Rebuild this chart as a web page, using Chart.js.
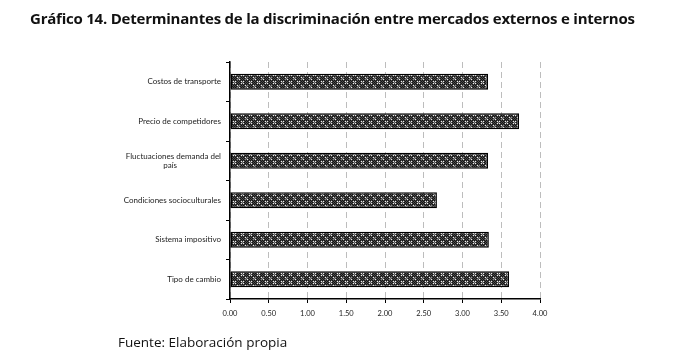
<!DOCTYPE html>
<html>
<head>
<meta charset="utf-8">
<script src="https://cdn.jsdelivr.net/npm/chart.js@4.4.1/dist/chart.umd.min.js"></script>
<style>
  html, body { margin: 0; padding: 0; background: #fff; }
  #wrap { position: relative; width: 682px; height: 364px; }
  #chart { position: absolute; left: 0; top: 0; }
  .title { position: absolute; left: 30px; top: 8px; font: bold 15px "Open Sans", sans-serif; color: #111; white-space: nowrap; letter-spacing: -0.22px; }
  .source { position: absolute; left: 118px; top: 333px; font: 13.5px "Open Sans", sans-serif; color: #111; white-space: nowrap; }
</style>
</head>
<body>
<div id="wrap">
  <canvas id="chart" width="682" height="364"></canvas>
  <div class="title">Gráfico 14. Determinantes de la discriminación entre mercados externos e internos</div>
  <div class="source">Fuente: Elaboración propia</div>
</div>
<script>
const categories = [
  'Costos de transporte',
  'Precio de competidores',
  ['Fluctuaciones demanda del', 'país' + '\u2002'.repeat(11)],
  'Condiciones socioculturales',
  'Sistema impositivo',
  'Tipo de cambio'
];
const scores = [3.33, 3.73, 3.33, 2.67, 3.34, 3.60];
const xTicks = [0, 0.5, 1, 1.5, 2, 2.5, 3, 3.5, 4];

// dense dark crosshatch tile like the original fill
function makePattern() {
  const tile = document.createElement('canvas');
  tile.width = 8; tile.height = 8;
  const c = tile.getContext('2d');
  c.fillStyle = '#4a4a4a';
  c.fillRect(0, 0, 8, 8);
  c.fillStyle = '#151515';
  for (let y = 0; y < 8; y++) {
    for (let x = 0; x < 8; x++) {
      if ((x + y) % 2 === 0) c.fillRect(x, y, 1, 1);
    }
  }
  c.fillStyle = '#eee';
  [[1,1],[3,3],[3,1],[1,3],[5,5],[7,7]].forEach(([x, y]) => c.fillRect(x, y, 1, 1));
  c.fillStyle = '#888';
  [[2,2],[6,6],[5,7],[7,5]].forEach(([x, y]) => c.fillRect(x, y, 1, 1));
  return c.createPattern(tile, 'repeat');
}

const ctx = document.getElementById('chart').getContext('2d');

new Chart(ctx, {
  type: 'bar',
  data: {
    labels: categories,
    datasets: [{
      data: scores,
      backgroundColor: makePattern(),
      borderColor: '#000',
      borderWidth: 1.5,
      borderSkipped: false,
      barPercentage: 0.41,
      categoryPercentage: 1.0
    }]
  },
  options: {
    indexAxis: 'y',
    responsive: false,
    animation: false,
    layout: { padding: { left: 0, right: 142, top: 62, bottom: 35 } },
    scales: {
      x: {
        min: 0,
        max: 4,
        afterBuildTicks: (scale) => { scale.ticks = xTicks.map(v => ({ value: v })); },
        afterFit: (scale) => { scale.height = 30; },
        grid: {
          color: '#bdbdbd',
          lineWidth: 1,
          tickColor: '#000',
          tickLength: 4,
          tickBorderDash: []
        },
        border: { color: '#000', width: 1.5, dash: [6, 4] },
        ticks: {
          color: '#222',
          font: { family: 'Lato', size: 7.5 },
          padding: 6,
          maxRotation: 0,
          callback: (v) => Number(v).toFixed(2)
        }
      },
      y: {
        afterFit: (scale) => { scale.width = 230; },
        grid: {
          offset: true,
          drawOnChartArea: false,
          color: '#000',
          tickLength: 4
        },
        border: { color: '#000', width: 1.5 },
        ticks: {
          color: '#222',
          font: { family: 'Lato', size: 8 },
          padding: 5
        }
      }
    },
    plugins: {
      legend: { display: false },
      tooltip: { enabled: false }
    }
  }
});
</script>
</body>
</html>
